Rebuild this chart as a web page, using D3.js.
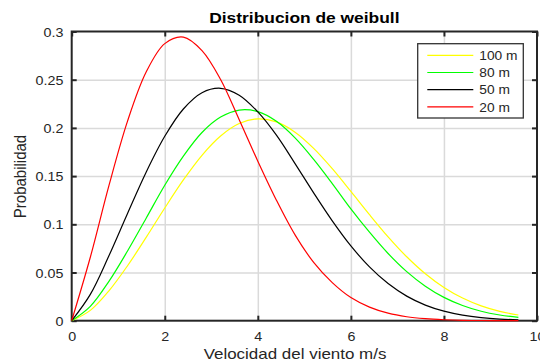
<!DOCTYPE html>
<html><head><meta charset="utf-8">
<script src="https://cdn.jsdelivr.net/npm/d3@7"></script>
<style>html,body{margin:0;padding:0;background:#fff;} svg{display:block;}</style>
</head><body><svg id="c" width="540" height="362"></svg>
<script>
const speeds = [0,0.4,0.8,1.2,1.6,2.0,2.4,2.8,3.2,3.6,4.0,4.4,4.8,5.2,5.6,6.0,6.4,6.8,7.2,7.6,8.0,8.4,8.8,9.2,9.6];
const p100 = [0,0.0107,0.0310,0.0570,0.0864,0.1169,0.1460,0.1716,0.1916,0.2045,0.2094,0.2062,0.1956,0.1788,0.1577,0.1341,0.1100,0.0870,0.0663,0.0487,0.0345,0.0235,0.0154,0.0097,0.0059];
const p80  = [0,0.0149,0.0408,0.0723,0.1063,0.1405,0.1707,0.1952,0.2112,0.2185,0.2169,0.2069,0.1897,0.1674,0.1423,0.1160,0.0918,0.0697,0.0509,0.0358,0.0242,0.0158,0.0098,0.0059,0.0034];
const p50  = [0,0.0273,0.0674,0.1113,0.1541,0.1913,0.2196,0.2365,0.2411,0.2339,0.2166,0.1925,0.1630,0.1326,0.1036,0.0776,0.0558,0.0385,0.0255,0.0162,0.0099,0.0058,0.0032,0.0017,0.0010];
const p20  = [0,0.0658,0.1401,0.2070,0.2579,0.2874,0.2942,0.2802,0.2502,0.2085,0.1655,0.1250,0.0890,0.0605,0.0395,0.0240,0.0141,0.0078,0.0041,0.0021,0.0010,0.0004,0.0002,0.0001,0.0000];
const seriesNames = ["100 m","80 m","50 m","20 m"];
const seriesColors = ["#ffff00","#00ff00","#000000","#ff0000"];
const xTicks = [0,2,4,6,8,10];
const xTickLabels = ["0","2","4","6","8","10"];
const yTicks = [0,0.05,0.1,0.15,0.2,0.25,0.3];
const yTickLabels = ["0","0.05","0.1","0.15","0.2","0.25","0.3"];
const titleText = "Distribucion de weibull";
const xLabelText = "Velocidad del viento m/s";
const yLabelText = "Probabilidad";

const FONT = "'Liberation Sans', Arial, Helvetica, sans-serif";
const TXT = "#262626";
const svg = d3.select("#c");
const X0 = 71.7, X1 = 537, Y0 = 320.7, Y1 = 31.5;
const xs = d3.scaleLinear().domain([0,10]).range([X0,X1]);
const ys = d3.scaleLinear().domain([0,0.3]).range([Y0,Y1]);

// grid
svg.append("g").attr("transform",`translate(0,${Y0})`)
  .call(d3.axisBottom(xs).tickValues(xTicks.slice(1,-1)).tickSize(-(Y0-Y1)).tickFormat(""))
  .call(g=>{g.select(".domain").remove(); g.selectAll("line").attr("stroke","#dadada").attr("stroke-width",1.5);});
svg.append("g").attr("transform",`translate(${X0},0)`)
  .call(d3.axisLeft(ys).tickValues(yTicks.slice(1,-1)).tickSize(-(X1-X0)).tickFormat(""))
  .call(g=>{g.select(".domain").remove(); g.selectAll("line").attr("stroke","#dadada").attr("stroke-width",1.5);});

// axes with inward ticks and labels
const TS = 13, SX = 1.1;
const axB = svg.append("g").attr("transform",`translate(0,${Y0})`)
  .call(d3.axisBottom(xs).tickValues(xTicks).tickFormat((d,i)=>xTickLabels[i]).tickSizeInner(-5).tickSizeOuter(0).tickPadding(0));
axB.selectAll("text").attr("y",20).attr("dy",null).attr("transform",`scale(${SX},1)`);
const axT = svg.append("g").attr("transform",`translate(0,${Y1})`)
  .call(d3.axisTop(xs).tickValues(xTicks).tickFormat("").tickSizeInner(-5).tickSizeOuter(0));
const axL = svg.append("g").attr("transform",`translate(${X0},0)`)
  .call(d3.axisLeft(ys).tickValues(yTicks).tickFormat((d,i)=>yTickLabels[i]).tickSizeInner(-5).tickSizeOuter(0));
axL.selectAll("text").attr("x",-8.3/SX).attr("dy","0.35em").attr("transform",`scale(${SX},1)`);
const axR = svg.append("g").attr("transform",`translate(${X1},0)`)
  .call(d3.axisRight(ys).tickValues(yTicks).tickFormat("").tickSizeInner(-5).tickSizeOuter(0));
[axB,axT,axL,axR].forEach(g=>{
  g.select(".domain").remove();
  g.selectAll("line").attr("stroke",TXT).attr("stroke-width",2);
  g.selectAll("text").attr("fill",TXT).style("font-family",FONT).style("font-size",TS+"px");
});
svg.append("rect").attr("x",X0).attr("y",Y1).attr("width",X1-X0).attr("height",Y0-Y1)
  .attr("fill","none").attr("stroke",TXT).attr("stroke-width",2);

// curves
const data = [p100,p80,p50,p20];
const lineGen = d3.line().x((d,i)=>xs(speeds[i])).y(d=>ys(d)).curve(d3.curveCatmullRom.alpha(0.5));
data.forEach((s,k)=>{
  svg.append("path").attr("d",lineGen(s)).attr("fill","none")
    .attr("stroke",seriesColors[k]).attr("stroke-width",1.2);
});

// texts
function stext(xp,yp,str,size,sx,anchor,weight,rot){
  return svg.append("text")
    .attr("transform",`translate(${xp},${yp}) scale(${sx},1)`+(rot?" rotate(-90)":""))
    .attr("text-anchor",anchor).attr("fill",weight==="bold"?"#000":TXT)
    .style("font-family",FONT).style("font-size",size+"px").style("font-weight",weight||"normal")
    .text(str);
}
stext((X0+X1)/2, 23.3, titleText, 15, 1.16, "middle", "bold");
stext(295, 359, xLabelText, 15, 1.13, "middle");
stext(25.7, 176.5, yLabelText, 15, 1.13, "middle", "normal", true);

// legend
const lg = svg.append("g");
lg.append("rect").attr("x",417.7).attr("y",43.7).attr("width",105.6).attr("height",74.3)
  .attr("fill","#fff").attr("stroke","#333").attr("stroke-width",1.3);
seriesNames.forEach((n,i)=>{
  const yy = 55.3 + i*17.2;
  lg.append("line").attr("x1",427.3).attr("x2",473.3).attr("y1",yy).attr("y2",yy)
    .attr("stroke",seriesColors[i]).attr("stroke-width",1.2);
  lg.append("text").attr("transform",`translate(479.3,${yy+4.6}) scale(1.06,1)`)
    .attr("fill",TXT).style("font-family",FONT).style("font-size","13px").text(n);
});
</script></body></html>
